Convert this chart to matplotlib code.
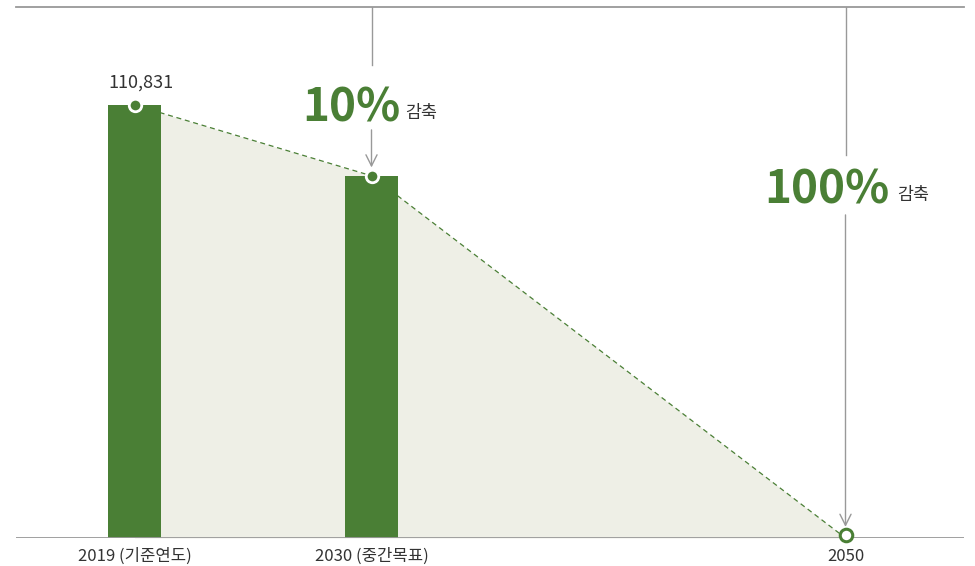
import matplotlib
matplotlib.use("Agg")
import matplotlib.pyplot as plt
from matplotlib.transforms import offset_copy

plt.rcParams['font.family'] = ['Noto Sans CJK KR', 'DejaVu Sans']

# Data
years = ["2019 (기준연도)", "2030 (중간목표)", "2050"]
positions = [0, 1, 3]
values = [110831, 92700, 0]
bar_years_idx = [0, 1]
value_label = "110,831"
reductions = ["10%", "100%"]
reduction_word = "감축"

GREEN = "#4a7f35"
FILL = "#eeefe6"
GRAY = "#999999"
DARK = "#333333"

fig = plt.figure(figsize=(9.75, 5.66), dpi=100)
ax = fig.add_axes([16/975, 28/566, 948/975, 531/566])
ax.set_xlim(-0.5, 3.5)
ymax = 135900
ax.set_ylim(0, ymax)
for s in ax.spines.values():
    s.set_visible(False)
ax.set_yticks([])

# filled area
ax.fill_between(positions, values, 0, color=FILL, zorder=1, linewidth=0)
# bars
bx = [positions[i] for i in bar_years_idx]
bv = [values[i] for i in bar_years_idx]
ax.bar(bx, bv, width=0.224, color=GREEN, zorder=2)
# dashed line
ax.plot(positions, values, color=GREEN, lw=0.9, ls=(0, (4, 3)), zorder=3)
# markers
ax.plot(bx, bv, 'o', ms=9, mfc=GREEN, mec='white', mew=2, zorder=5)
tr_up = offset_copy(ax.transData, fig=fig, x=0, y=3, units='dots')
ax.plot([positions[2]], [values[2]], 'o', ms=9, mfc='white', mec=GREEN, mew=2.2,
        zorder=5, clip_on=False, transform=tr_up)

# baseline and top line
ax.axhline(0, color=GRAY, lw=1.3, zorder=4)
ax.axhline(ymax, color=GRAY, lw=1.3, zorder=4, clip_on=False)

# ticks
ax.set_xticks(positions)
ax.set_xticklabels(years, fontsize=12, color=DARK)
ax.tick_params(axis='x', length=0, pad=7)

def py2v(py):
    return (538 - py) * 256.0

# vertical guide lines with arrows
ax.plot([1, 1], [ymax, py2v(65)], color=GRAY, lw=1, zorder=4)
ax.annotate('', xy=(1, values[1]), xytext=(1, py2v(130)),
            arrowprops=dict(arrowstyle='->,head_length=0.8,head_width=0.4', color=GRAY, lw=1,
                            shrinkA=0, shrinkB=6), zorder=4)
ax.plot([3, 3], [ymax, py2v(155)], color=GRAY, lw=1, zorder=4)
ax.annotate('', xy=(3, values[2]), xytext=(3, py2v(215)),
            arrowprops=dict(arrowstyle='->,head_length=0.8,head_width=0.4', color=GRAY, lw=1,
                            shrinkA=0, shrinkB=8), zorder=4)

# texts
ax.text(-0.112, py2v(88), value_label, fontsize=13, color=DARK, ha='left', va='baseline')
ax.text((400-134.5)/237, py2v(122), reductions[0], fontsize=33, fontweight='bold',
        color=GREEN, ha='right', va='baseline')
ax.text((405-134.5)/237, py2v(118), reduction_word, fontsize=12.5, color=DARK,
        ha='left', va='baseline')
ax.text((889-134.5)/237, py2v(204), reductions[1], fontsize=33, fontweight='bold',
        color=GREEN, ha='right', va='baseline')
ax.text((897-134.5)/237, py2v(200), reduction_word, fontsize=12.5, color=DARK,
        ha='left', va='baseline')

fig.savefig("out.png", dpi=100)
